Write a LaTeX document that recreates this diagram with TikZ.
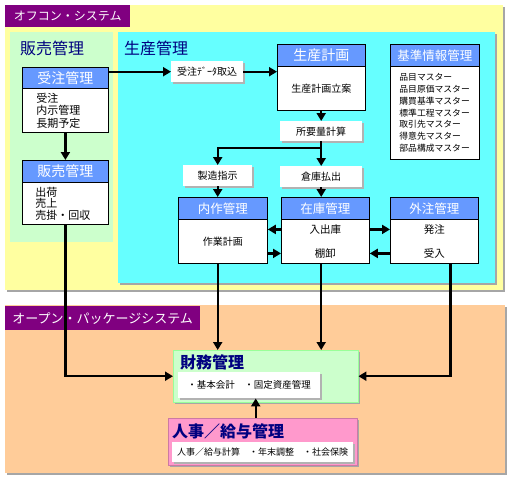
\documentclass[tikz,border=0pt]{standalone}
\usepackage{fontspec}
\setmainfont{Noto Sans CJK JP}
\usetikzlibrary{arrows.meta,shadows}
\definecolor{hdrblue}{RGB}{102,153,255}
\definecolor{bgyellow}{RGB}{255,255,160}
\definecolor{bgcyan}{RGB}{102,255,255}
\definecolor{bggreen}{RGB}{204,255,204}
\definecolor{bgorange}{RGB}{255,204,153}
\definecolor{bgpink}{RGB}{255,153,204}
\definecolor{bannerpurple}{RGB}{128,0,128}
\definecolor{titlenavy}{RGB}{0,0,128}

\begin{document}
\begin{tikzpicture}[x=1pt,y=-1pt,
    region/.style={drop shadow={shadow xshift=2pt,shadow yshift=-2pt,fill=gray!70,opacity=1}},
    banner/.style={fill=bannerpurple, text=white, anchor=north west, inner sep=0pt},
    lbl/.style={text=titlenavy, anchor=west, inner sep=0pt, font=\fontsize{16}{16}\selectfont},
    hdr/.style={draw, fill=hdrblue, text=white, anchor=north west, inner sep=0pt, line width=0.8pt, minimum height=22pt},
    bodybox/.style={draw, fill=white, anchor=north west, inner sep=0pt, line width=0.8pt},
    stepbox/.style={fill=white, anchor=north west, inner sep=0pt, font=\fontsize{10}{10}\selectfont,
        drop shadow={shadow xshift=1.5pt,shadow yshift=-1.5pt,fill=gray!60,opacity=1}},
    arr/.style={line width=2.4pt, -{Triangle[length=8pt,width=9pt]}}]

    \useasboundingbox (0,0) rectangle (510,480);

    \path[region, fill=bgyellow] (5,5) rectangle (503,290);
    \path[region, fill=bgorange] (5,305) rectangle (505,473);
    \fill[bggreen] (10,32) rectangle (113,242);
    \path[region, fill=bgcyan] (118,32) rectangle (495,283);

    \node[banner, minimum width=125pt, minimum height=22pt, font=\fontsize{12}{12}\selectfont] (offcon) at (5,5) {オフコン・システム};
    \node[banner, minimum width=195pt, minimum height=24pt, font=\fontsize{13}{13}\selectfont] (openpkg) at (5,306) {オープン・パッケージシステム};

    \node[lbl] (hanbailbl) at (20,48) {販売管理};
    \node[lbl] (seisanlbl) at (124,48) {生産管理};

    \node[hdr, minimum width=86pt, minimum height=21pt, font=\fontsize{14}{14}\selectfont] (juchu) at (22,67) {受注管理};
    \node[bodybox, minimum width=86pt, minimum height=44pt, text width=58pt, inner xsep=14pt, align=left,
        font=\fontsize{11}{12.5}\selectfont] (juchub) at (22,88) {受注\\内示管理\\長期予定};

    \node[hdr, minimum width=86pt, font=\fontsize{14}{14}\selectfont] (hanbai) at (22,160) {販売管理};
    \node[bodybox, minimum width=86pt, minimum height=42pt, text width=60pt, inner xsep=13pt, align=left,
        font=\fontsize{11}{11.5}\selectfont] (hanbaib) at (22,182) {出荷\\売上\\売掛・回収};

    \node[stepbox, minimum width=72pt, minimum height=21pt] (datain) at (171,61) {受注ﾃﾞｰﾀ取込};

    \node[hdr, minimum width=88pt, font=\fontsize{14}{14}\selectfont] (keikaku) at (277,44) {生産計画};
    \node[bodybox, minimum width=88pt, minimum height=44pt, font=\fontsize{10}{10}\selectfont] (keikakub) at (277,66) {生産計画立案};

    \node[hdr, minimum width=89pt, font=\fontsize{12.5}{12.5}\selectfont] (kijun) at (390,44) {基準情報管理};
    \node[bodybox, minimum width=89pt, minimum height=93pt, text width=71pt, inner xsep=9pt, align=left,
        font=\fontsize{8.8}{11.8}\selectfont] (kijunb) at (390,66)
        {品目マスター\\品目原価マスター\\購買基準マスター\\標準工程マスター\\取引先マスター\\得意先マスター\\部品構成マスター};

    \node[stepbox, minimum width=82pt, minimum height=20pt] (shoyo) at (280,121) {所要量計算};
    \node[stepbox, minimum width=69pt, minimum height=21pt] (seizo) at (183,165) {製造指示};
    \node[stepbox, minimum width=82pt, minimum height=21pt] (souko) at (280,166) {倉庫払出};

    \node[hdr, minimum width=89pt, font=\fontsize{12.5}{12.5}\selectfont] (naisaku) at (178,197) {内作管理};
    \node[bodybox, minimum width=89pt, minimum height=44pt, font=\fontsize{10}{10}\selectfont] (naisakub) at (178,219) {作業計画};

    \node[hdr, minimum width=88pt, font=\fontsize{12.5}{12.5}\selectfont] (zaiko) at (281,197) {在庫管理};
    \node[bodybox, minimum width=88pt, minimum height=44pt, align=center, font=\fontsize{10.5}{24}\selectfont] (zaikob) at (281,219) {入出庫\\棚卸};

    \node[hdr, minimum width=88pt, font=\fontsize{12.5}{12.5}\selectfont] (gaichu) at (390,197) {外注管理};
    \node[bodybox, minimum width=88pt, minimum height=44pt, align=center, font=\fontsize{10.5}{24}\selectfont] (gaichub) at (390,219) {発注\\受入};

    \node[region, fill=bggreen, draw=green!40!white, anchor=north west, minimum width=185pt, minimum height=52pt] (zaimu) at (173,350) {};
    \node[text=titlenavy, anchor=west, inner sep=0pt, font=\fontsize{16}{16}\selectfont\bfseries] (zaimutitle) at (180,362) {財務管理};
    \node[stepbox, minimum width=142pt, minimum height=26pt, font=\fontsize{9.5}{9.5}\selectfont] (zaimuin) at (178,372) {・基本会計　・固定資産管理};

    \node[region, fill=bgpink, draw=bgpink!80!black, anchor=north west, minimum width=189pt, minimum height=47pt] (jinji) at (168,418) {};
    \node[text=titlenavy, anchor=west, inner sep=0pt, font=\fontsize{16}{16}\selectfont\bfseries] (jinjititle) at (172,431) {人事／給与管理};
    \node[stepbox, minimum width=181pt, minimum height=20pt, font=\fontsize{9}{9}\selectfont] (jinjiin) at (172,442) {人事／給与計算　・年末調整　・社会保険};

    \coordinate (br) at (321,148);
    \coordinate (jup) at ([xshift=-7pt]jinji.north);

    \draw[arr] (juchub.south) -- (hanbai.north);
    \draw[arr] (datain.west -| juchu.east) -- (datain.west);
    \draw[arr] (datain.east) -- (datain.east -| keikakub.west);
    \draw[arr] (keikakub.south -| shoyo.north) -- (shoyo.north);
    \draw[arr] (shoyo.south) -- (souko.north);
    \draw[arr] (br) -| (seizo.north);
    \draw[arr] (seizo.south) -- (naisaku.north -| seizo.south);
    \draw[arr] (souko.south) -- (zaiko.north -| souko.south);

    \draw[arr] ([yshift=12pt]zaikob.west) -- ([yshift=12pt]naisakub.east);
    \draw[arr] ([yshift=-12pt]naisakub.east) -- ([yshift=-12pt]zaikob.west);
    \draw[arr] ([yshift=12pt]zaikob.east) -- ([yshift=12pt]gaichub.west);
    \draw[arr] ([yshift=-12pt]gaichub.west) -- ([yshift=-12pt]zaikob.east);

    \draw[arr] (hanbaib.south) |- (zaimu.west);
    \draw[arr] (naisakub.south -| seizo.south) -- (zaimu.north -| seizo.south);
    \draw[arr] (zaikob.south -| souko.south) -- (zaimu.north -| souko.south);
    \draw[arr] ([xshift=16pt]gaichub.south) |- (zaimu.east);
    \draw[arr] (jup) -- (jup |- zaimuin.south);

\end{tikzpicture}
\end{document}
